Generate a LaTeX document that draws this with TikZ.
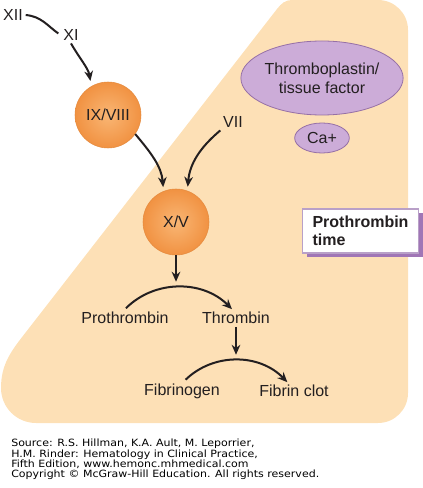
\documentclass[tikz,border=0pt]{standalone}
\usepackage{fontspec}
\setmainfont{Liberation Sans}
\newfontfamily\srcfont[FakeStretch=1.1]{DejaVu Sans}
\usetikzlibrary{arrows.meta,shapes.geometric,shadows}

\definecolor{panelbeige}{RGB}{253,224,182}
\definecolor{factororange}{RGB}{241,146,66}
\definecolor{factorlight}{RGB}{249,182,116}
\definecolor{tfpurple}{RGB}{204,172,216}
\definecolor{tfedge}{RGB}{150,112,166}
\definecolor{boxedge}{RGB}{185,160,200}
\definecolor{boxpurple}{RGB}{160,118,182}
\definecolor{inkgray}{RGB}{35,31,32}

\begin{document}
\begin{tikzpicture}[x=0.75pt,y=-0.75pt]
    \tikzset{
      every node/.style={font=\fontsize{12}{14.5}\selectfont, text=inkgray},
      Factor/.style={circle, minimum size=49.5pt, inner sep=0pt,
        inner color=factorlight, outer color=factororange,
        draw=factororange!95!black, line width=0.4pt},
      Cofactor/.style={ellipse, fill=tfpurple, draw=tfedge,
        line width=0.6pt, inner sep=0pt, align=center},
      Label/.style={inner sep=2pt},
      Link/.style={draw=inkgray, line width=1.5pt},
      Step/.style={Link, -{Stealth[length=7.5pt,width=6.5pt]}}}
    \useasboundingbox (0,0) rectangle (422,488);
    % shaded region of the test
    \fill[panelbeige] (26,332) -- (277,9) to[out=52,in=180] (292,0) -- (378,0)
      to[out=0,in=90] (408,30) -- (408,393) to[out=270,in=0] (378,423)
      -- (36,423) to[out=180,in=270] (1,388) to[out=90,in=232] (26,332) -- cycle;
    % factors
    \node[Label] (XII) at (13,15) {XII};
    \node[Label] (XI) at (71,35) {XI};
    \node[Factor] (IXVIII) at (108,115) {IX/VIII};
    \node[Label] (VII) at (233,122) {VII};
    \node[Factor] (XV) at (176,222) {X/V};
    \node[Cofactor, minimum width=115.5pt, minimum height=55.5pt] (TF)
      at (322,78) {Thromboplastin/\\tissue factor};
    \node[Cofactor, minimum width=41pt, minimum height=22.5pt] (Ca) at (322,138) {Ca+};
    \node[draw=boxedge, fill=white, line width=0.8pt, align=left,
      font=\bfseries\fontsize{12}{13.5}\selectfont, inner xsep=7.5pt,
      minimum height=33pt,
      drop shadow={fill=boxpurple, opacity=1, shadow xshift=3pt, shadow yshift=-3pt}]
      (PT) at (360.5,231) {Prothrombin\\time};
    \node[Label] (Pro) at (125,318) {Prothrombin};
    \node[Label] (Thr) at (236,318) {Thrombin};
    \node[Label] (Fbg) at (182,391) {Fibrinogen};
    \node[Label] (Fbc) at (294,391) {Fibrin clot};
    % cascade
    \draw[Link, shorten >=2pt] (XII.east) to[out=-5,in=145] (XI.west);
    \draw[Step, shorten >=4pt] (XI.south) to[out=-60,in=100] (IXVIII.120);
    \draw[Step, shorten >=3pt] (IXVIII.-35) to[out=-50,in=95] (XV.112);
    \draw[Step, shorten >=3pt] (VII.south west) to[out=220,in=85] (XV.70);
    \draw[Step, shorten <=1pt] (Pro.north) to[bend left=45] coordinate[midway] (proarc)
      ([xshift=-3pt]Thr.north);
    \draw[Step, shorten >=4pt] (XV.south) -- (XV.south |- proarc);
    \draw[Step, shorten <=1pt] ([xshift=2pt]Fbg.north) to[bend left=45] coordinate[midway] (fibarc)
      ([xshift=-5pt]Fbc.north);
    \draw[Step, shorten >=4pt] (Thr.south) -- (Thr.south |- fibarc);
    % source
    \node[anchor=north west, inner sep=0pt, align=left, text=black,
      font=\srcfont\fontsize{7.5}{7.6}\selectfont] (src) at (11,439)
      {Source: R.S. Hillman, K.A. Ault, M. Leporrier,\\
       H.M. Rinder: Hematology in Clinical Practice,\\
       Fifth Edition, www.hemonc.mhmedical.com\\
       Copyright © McGraw-Hill Education. All rights reserved.};
\end{tikzpicture}
\end{document}
